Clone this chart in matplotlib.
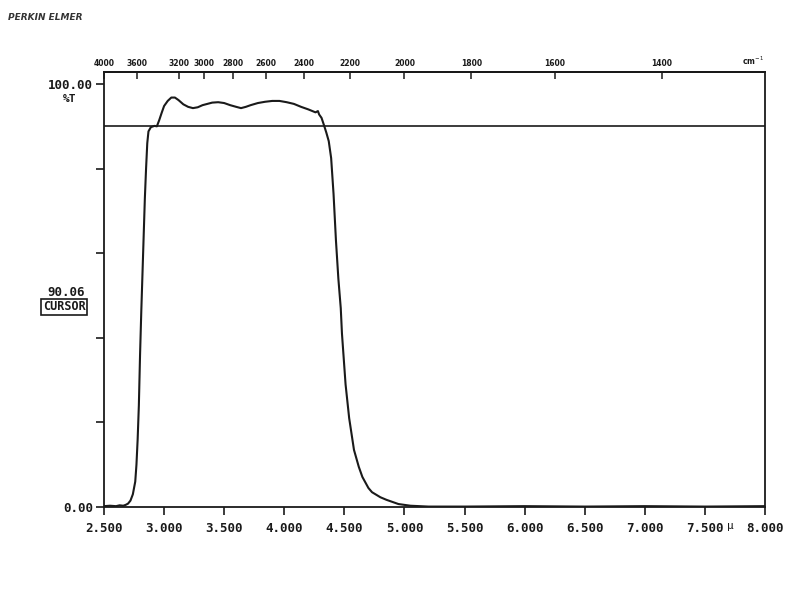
import numpy as np
import matplotlib
matplotlib.use("Agg")
import matplotlib.pyplot as plt

# Wavelength (micron) and transmittance (%T)
wavelength = [2.50, 2.55, 2.60, 2.63, 2.66, 2.68, 2.70, 2.72, 2.74, 2.76,
              2.77, 2.78, 2.79, 2.80, 2.81, 2.82, 2.83, 2.84, 2.85, 2.86,
              2.87, 2.89, 2.92, 2.94, 2.96, 2.98, 3.00, 3.03, 3.06, 3.09,
              3.12, 3.16, 3.20, 3.24, 3.28, 3.32, 3.36, 3.40, 3.45, 3.50,
              3.55, 3.60, 3.64, 3.68, 3.72, 3.78, 3.84, 3.90, 3.96, 4.02,
              4.08, 4.14, 4.20, 4.26, 4.28, 4.29, 4.31, 4.33, 4.35, 4.37,
              4.39, 4.41, 4.43, 4.45, 4.47, 4.48, 4.51, 4.54, 4.58, 4.62,
              4.65, 4.70, 4.73, 4.80, 4.85, 4.95, 5.05, 5.20, 5.50, 6.00,
              6.50, 7.00, 7.50, 8.00]
transmittance = [0.2, 0.3, 0.2, 0.4, 0.3, 0.5, 0.8, 1.5, 3.0, 6.0,
                 10.0, 16.0, 24.0, 36.0, 46.0, 55.0, 64.0, 73.0, 80.0, 86.0,
                 88.8, 89.8, 90.1, 90.0, 91.5, 93.2, 94.8, 96.0, 96.8, 96.8,
                 96.2, 95.2, 94.6, 94.3, 94.5, 95.0, 95.3, 95.6, 95.7, 95.5,
                 95.0, 94.6, 94.3, 94.6, 95.0, 95.5, 95.8, 96.0, 96.0, 95.7,
                 95.3, 94.6, 94.0, 93.3, 93.6, 92.8, 92.0, 90.3, 88.5, 86.5,
                 82.5, 74.0, 63.0, 54.0, 47.0, 41.0, 29.0, 21.0, 13.5, 9.5,
                 7.1, 4.5, 3.5, 2.3, 1.7, 0.7, 0.3, 0.1, 0.1, 0.2,
                 0.1, 0.2, 0.1, 0.2]

cursor_value = 90.06
x_ticks = [2.5, 3.0, 3.5, 4.0, 4.5, 5.0, 5.5, 6.0, 6.5, 7.0, 7.5, 8.0]
x_labels = ["2.500", "3.000", "3.500", "4.000", "4.500", "5.000",
            "5.500", "6.000", "6.500", "7.000", "7.500", "8.000"]
y_ticks = [0, 20, 40, 60, 80, 100]
y_labels = ["0.00", "", "", "", "", "100.00"]
wn_ticks = [4000, 3600, 3200, 3000, 2800, 2600, 2400, 2200, 2000, 1800, 1600, 1400]

ink = "#1a1a1a"
mono = "DejaVu Sans Mono"


def um_to_wn(x):
    x = np.asarray(x, dtype=float)
    with np.errstate(divide="ignore"):
        return 1e4 / x


fig = plt.figure(figsize=(8, 6), dpi=100)
ax = fig.add_axes([0.13, 0.155, 0.82625, 0.725])

ax.plot(wavelength, transmittance, color=ink, lw=1.5)
ax.axhline(cursor_value, color=ink, lw=1.2)

ax.set_xlim(2.5, 8.0)
ax.set_ylim(0, 102.84)

ax.set_xticks(x_ticks)
ax.set_xticklabels(x_labels, family=mono, fontsize=9, fontweight="bold", color=ink)
ax.set_yticks(y_ticks)
ax.set_yticklabels(y_labels, family=mono, fontsize=9, fontweight="bold", color=ink)
ax.tick_params(axis="x", direction="out", length=6, width=1.2, pad=5, colors=ink)
ax.tick_params(axis="y", direction="out", length=6, width=1.2, pad=2, colors=ink)
for s in ax.spines.values():
    s.set_linewidth(1.3)
    s.set_color(ink)

# top wavenumber scale
top = ax.secondary_xaxis("top", functions=(um_to_wn, um_to_wn))
top.set_xticks(wn_ticks)
top.set_xticklabels([str(t) for t in wn_ticks], fontsize=5.5, fontweight="bold", color=ink)
top.tick_params(direction="in", length=5, width=1.1, pad=3, colors=ink)
top.spines["top"].set_linewidth(1.3)

ax.text(0.982, 1.012, "cm$^{-1}$", transform=ax.transAxes, fontsize=5.5,
        fontweight="bold", ha="center", va="bottom", color=ink)

# left side annotations
fig.text(70 / 800, 1 - 99 / 600, "%T", family=mono, fontsize=8, fontweight="bold",
         ha="center", va="center", color=ink)
fig.text(66 / 800, 1 - 292 / 600, "90.06", family=mono, fontsize=9, fontweight="bold",
         ha="center", va="center", color=ink)
fig.text(64 / 800, 1 - 307 / 600, "CURSOR", family=mono, fontsize=8.5, fontweight="bold",
         ha="center", va="center", color=ink,
         bbox=dict(boxstyle="square,pad=0.1", fc="white", ec=ink, lw=1.2))
fig.text(730 / 800, 1 - 526 / 600, "\u03bc", family=mono, fontsize=8,
         ha="center", va="center", color=ink)

fig.text(8 / 800, 1 - 17 / 600, "PERKIN ELMER", fontsize=6.5, fontweight="bold",
         style="italic", ha="left", va="center", color="#333333")

fig.savefig("out.png", dpi=100, facecolor="white")
